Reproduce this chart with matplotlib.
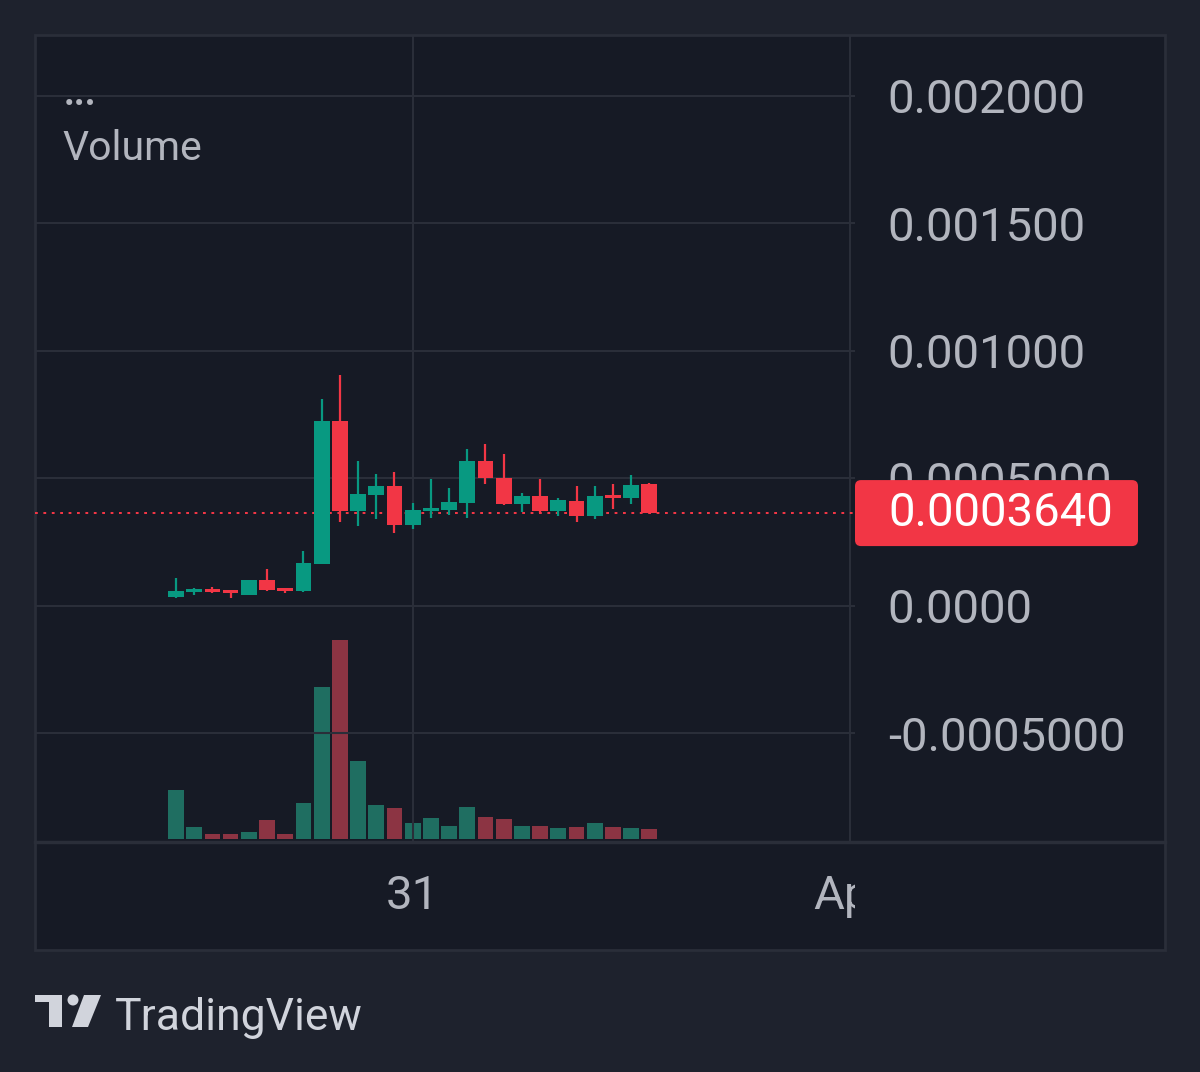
import numpy as np
import matplotlib
matplotlib.use('Agg')
import matplotlib.pyplot as plt
from matplotlib.patches import Rectangle, FancyBboxPatch, Polygon, Ellipse
from matplotlib.lines import Line2D
from matplotlib.transforms import IdentityTransform

plt.rcParams['font.family'] = ['Roboto', 'DejaVu Sans']

# Velas horarias (preco)
opens = [3.5e-5, 5.5e-5, 6.7e-5, 6.3e-5, 4.3e-5, 1.02e-4, 7.1e-5, 5.9e-5, 1.65e-4,
         7.25e-4, 3.72e-4, 4.35e-4, 4.70e-4, 3.18e-4, 3.74e-4, 3.76e-4, 4.05e-4,
         5.68e-4, 5.03e-4, 4.00e-4, 4.32e-4, 3.74e-4, 4.13e-4, 3.53e-4, 4.35e-4,
         4.23e-4, 4.78e-4]
highs = [1.10e-4, 7.1e-5, 7.4e-5, 6.3e-5, 1.02e-4, 1.45e-4, 7.1e-5, 2.16e-4, 8.11e-4,
         9.06e-4, 5.68e-4, 5.17e-4, 5.25e-4, 4.04e-4, 4.99e-4, 4.64e-4, 6.15e-4,
         6.35e-4, 5.96e-4, 4.43e-4, 4.98e-4, 4.23e-4, 4.72e-4, 4.72e-4, 4.78e-4,
         5.14e-4, 4.83e-4]
lows = [3.1e-5, 4.3e-5, 5.1e-5, 3.1e-5, 4.3e-5, 5.9e-5, 5.1e-5, 5.5e-5, 1.65e-4,
        3.29e-4, 3.14e-4, 3.41e-4, 2.86e-4, 3.02e-4, 3.46e-4, 3.57e-4, 3.46e-4,
        4.78e-4, 3.96e-4, 3.68e-4, 3.65e-4, 3.53e-4, 3.29e-4, 3.41e-4, 3.80e-4,
        4.00e-4, 3.64e-4]
closes = [5.9e-5, 6.7e-5, 5.5e-5, 5.1e-5, 1.02e-4, 6.3e-5, 5.9e-5, 1.69e-4, 7.25e-4,
          3.72e-4, 4.39e-4, 4.70e-4, 3.18e-4, 3.76e-4, 3.85e-4, 4.08e-4, 5.68e-4,
          5.02e-4, 4.00e-4, 4.32e-4, 3.74e-4, 4.16e-4, 3.53e-4, 4.32e-4, 4.25e-4,
          4.74e-4, 3.64e-4]
volumes = [49.3, 12.6, 5.6, 5.6, 7.3, 19.6, 5.6, 36.6, 152.3, 199.3, 78.0, 34.0, 31.3,
           16.3, 21.0, 13.6, 32.0, 22.3, 20.3, 13.6, 13.6, 11.6, 12.0, 16.3, 12.0, 11.6, 10.0]

last_price = 0.000364
last_label = '0.0003640'

price_ticks = [-0.0005, 0.0, 0.0005, 0.001, 0.0015, 0.002]
price_labels = ['-0.0005000', '0.0000', '0.0005000', '0.001000', '0.001500', '0.002000']

date_pos = [13, 37]
date_labels = ['31', 'Apr']

# cores
bg_out = '#1e222d'
bg_in = '#161a25'
grid_c = '#2a2e39'
txt_c = '#b2b5be'
up_c = '#089981'
down_c = '#f23645'
vol_up = '#1f6e61'
vol_down = '#8c3443'

W, H = 1200, 1072
fig = plt.figure(figsize=(W / 100, H / 100), dpi=100, facecolor=bg_out)

def px_rect(x0, y0, x1, y1):
    return [x0 / W, 1 - y1 / H, (x1 - x0) / W, (y1 - y0) / H]

# fundo do painel
fig.add_artist(Rectangle((35, H - 950), 1130, 915, transform=IdentityTransform(),
                         facecolor=bg_in, edgecolor=grid_c, lw=2, zorder=-5))

ax = fig.add_axes(px_rect(35, 35, 855, 842))
axv = ax.twinx()
ax.set_zorder(axv.get_zorder() + 1)
ax.patch.set_visible(False)

x = np.arange(len(opens))
o = np.array(opens); c = np.array(closes)
h = np.array(highs); l = np.array(lows)
up = c >= o
colors = np.where(up, up_c, down_c)

# volume
vmax = max(volumes)
axv.bar(x, volumes, width=0.86, color=np.where(up, vol_up, vol_down), zorder=1)
axv.set_ylim(-vmax * 2.7 / 199.3, vmax * 804.3 / 199.3)
axv.set_axis_off()

# velas
ax.vlines(x, l, h, colors=colors, lw=1.6, zorder=3)
body = np.where(np.abs(c - o) < 4e-6, 4e-6, c - o)
ax.bar(x, body, bottom=o, width=0.86, color=colors, zorder=4)

ax.axhline(last_price, color=down_c, lw=1.44, linestyle=(0, (1.4, 2.8)), zorder=2)

ax.set_xlim(-7.75, 37.3)
ax.set_ylim(-9.26e-4, 2.239e-3)
ax.set_yticks(price_ticks)
ax.set_yticklabels(price_labels)
ax.yaxis.tick_right()
ax.tick_params(axis='y', length=0, pad=23.5, labelsize=34, labelcolor=txt_c)
ax.set_xticks(date_pos)
ax.tick_params(axis='x', length=0, labelbottom=False)
ax.grid(True, color=grid_c, lw=1.5)
for s in ax.spines.values():
    s.set_visible(False)

ax.text(0.034, 0.859, 'Volume', transform=ax.transAxes, color=txt_c, fontsize=29.5,
        va='center', ha='left')
ax.text(0.035, 0.913, '...', transform=ax.transAxes, color=txt_c, fontsize=27,
        va='baseline', ha='left', fontweight='bold')

# eixo do tempo
axt = fig.add_axes(px_rect(35, 842, 855, 950), sharex=ax)
axt.set_facecolor('none')
axt.set_axis_off()
for p, lab in zip(date_pos, date_labels):
    axt.text(p, 0.5, lab, color=txt_c, fontsize=34, ha='center', va='center',
             transform=axt.get_xaxis_transform(), clip_on=True)
fig.add_artist(Line2D([35, 1165], [H - 842, H - 842], transform=IdentityTransform(),
                      color=grid_c, lw=2.5, zorder=-4))

# etiqueta do ultimo preco
yd = ax.transData.transform((0, last_price))[1]
fig.add_artist(FancyBboxPatch((855, yd - 33), 283, 66, transform=IdentityTransform(),
                              boxstyle='round,pad=0,rounding_size=6',
                              facecolor=down_c, edgecolor='none', zorder=5))
fig.text(888, yd, last_label, transform=IdentityTransform(), color='white',
         fontsize=34, va='center', ha='left', zorder=6)

# logo TradingView
logo_c = '#d1d4dc'
fig.add_artist(Polygon([(35, H - 995), (62, H - 995), (62, H - 1027), (49, H - 1027),
                        (49, H - 1002), (35, H - 1002)], closed=True,
                       transform=IdentityTransform(), facecolor=logo_c, edgecolor='none'))
fig.add_artist(Ellipse((73, H - 1000), 11, 11, transform=IdentityTransform(),
                       facecolor=logo_c, edgecolor='none'))
fig.add_artist(Polygon([(84, H - 995), (101, H - 995), (88, H - 1027), (72, H - 1027)],
                       closed=True, transform=IdentityTransform(),
                       facecolor=logo_c, edgecolor='none'))
fig.text(115, H - 1030, 'TradingView', transform=IdentityTransform(), color=logo_c,
         fontsize=32, va='baseline', ha='left')

fig.savefig('out.png', dpi=100, facecolor=bg_out)
